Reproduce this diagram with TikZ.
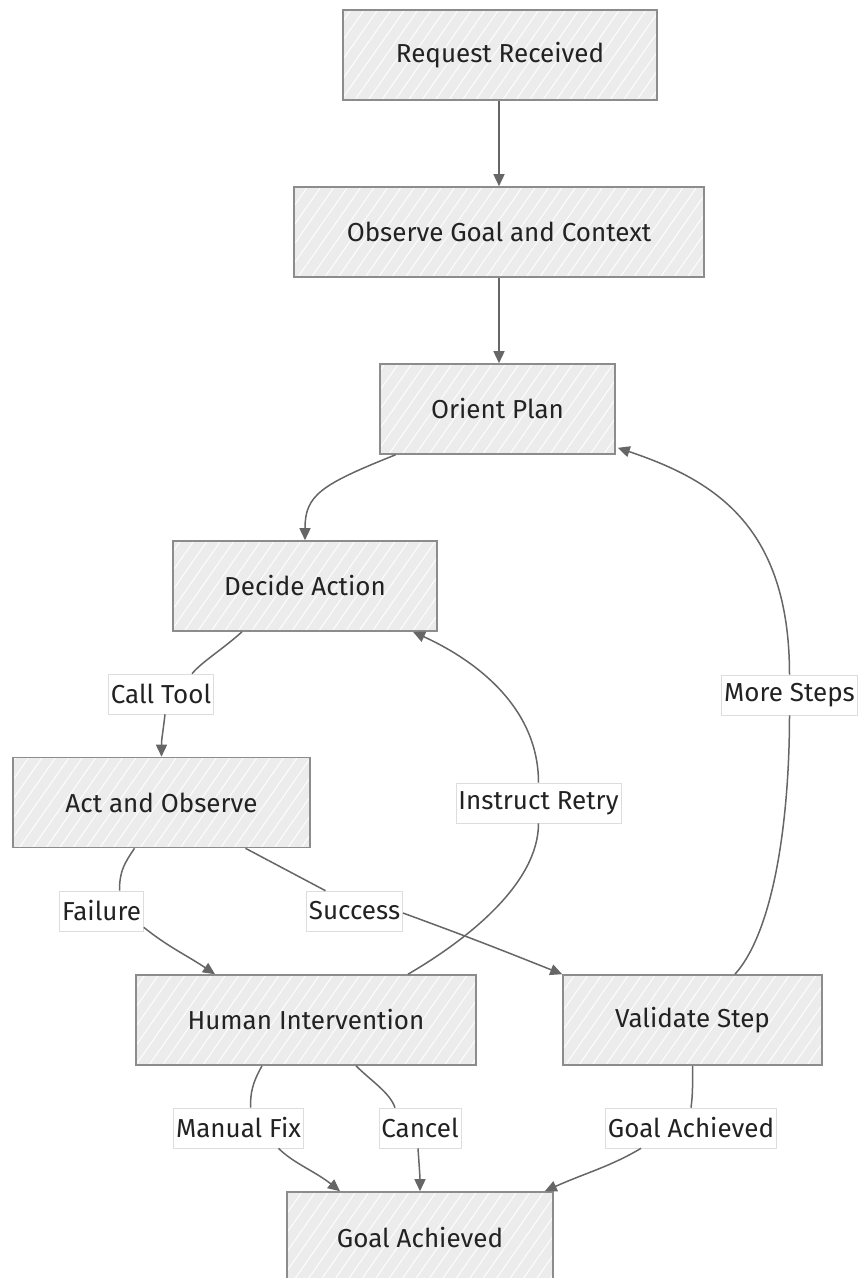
\documentclass[tikz,border=0pt]{standalone}
\usepackage{fontspec}
\setmainfont{Fira Sans}
\usetikzlibrary{arrows.meta,patterns.meta,calc}

\definecolor{boxfill}{HTML}{ECECEC}
\definecolor{boxline}{HTML}{8C8C8C}
\definecolor{edge}{HTML}{666666}
\definecolor{txt}{HTML}{222222}
\definecolor{lblline}{HTML}{DDDDDD}

\tikzset{
  stepbox/.style={
    rectangle, minimum height=90pt, inner sep=0pt,
    preaction={fill=boxfill},
    preaction={pattern={Lines[angle=55,distance=11pt,line width=0.9pt]}, pattern color=white},
    draw=boxline, line width=1.6pt,
    text=txt, font=\fontsize{26}{30}\selectfont
  },
  lbl/.style={
    rectangle, fill=white, draw=lblline, line width=0.6pt,
    minimum height=40pt, inner xsep=2.5pt, inner ysep=0pt,
    text=txt, font=\fontsize{26}{30}\selectfont
  },
  link/.style={draw=edge, line width=1.5pt},
  arr/.style={link, -{Triangle[length=12pt,width=11pt]}}
}

\begin{document}
\begin{tikzpicture}[x=1pt,y=-1pt]
  \useasboundingbox (0,0) rectangle (858,1278);

  % process steps
  \node[stepbox, minimum width=314pt] (req)  at (500,55)    {Request Received};
  \node[stepbox, minimum width=410pt] (obs)  at (499,232)   {Observe Goal and Context};
  \node[stepbox, minimum width=235pt] (ori)  at (497.5,409) {Orient Plan};
  \node[stepbox, minimum width=264pt] (dec)  at (305,586)   {Decide Action};
  \node[stepbox, minimum width=297pt] (act)  at (161.5,802.5) {Act and Observe};
  \node[stepbox, minimum width=340pt] (hum)  at (306,1020)  {Human Intervention};
  \node[stepbox, minimum width=259pt] (val)  at (692.5,1020) {Validate Step};
  \node[stepbox, minimum width=266pt] (goal) at (420,1237)  {Goal Achieved};

  % edge labels
  \node[lbl] (lcall)  at (161,694)    {Call Tool};
  \node[lbl] (lfail)  at (101.5,911)  {Failure};
  \node[lbl] (lsucc)  at (354.5,911)  {Success};
  \node[lbl] (lretry) at (538.5,803)  {Instruct Retry};
  \node[lbl] (lmore)  at (789.5,695)  {More Steps};
  \node[lbl] (lman)   at (238.5,1128) {Manual Fix};
  \node[lbl] (lcan)   at (420,1128)   {Cancel};
  \node[lbl] (lgoal)  at (691,1128)   {Goal Achieved};

  % straight flow at the top
  \draw[arr] ($(req.south)+(-1,0)$) -- ($(obs.north)+(0,0)$);
  \draw[arr] (obs.south) -- ($(ori.north)+(1.5,0)$);

  % orient -> decide
  \draw[arr] ($(ori.south)+(-102,0)$) .. controls +(-75,30) and +(0,-45) .. (dec.north);

  % decide -> act (call tool)
  \draw[link] ($(dec.south)+(-63,0)$) .. controls +(-20,18) and +(10,-12) .. ($(lcall.north)+(31,0)$);
  \draw[arr] ($(lcall.south)+(4,0)$) .. controls +(-2,18) and +(0,-18) .. (act.north);

  % act -> human (failure)
  \draw[link] ($(act.south)+(-27,0)$) .. controls +(-10,15) and +(0,-20) .. ($(lfail.north)+(18,0)$);
  \draw[arr] ($(lfail.south east)+(0,-4)$) .. controls +(25,20) and +(-30,-20) .. ($(hum.north)+(-91,0)$);

  % act -> validate (success)
  \draw[link] ($(act.south)+(84,0)$) -- ($(lsucc.north)+(-29,0)$);
  \draw[arr] ($(lsucc.east)+(0,2)$) .. controls +(60,22) and +(-70,-28) .. (val.north west);

  % human -> decide (instruct retry)
  \draw[link] ($(hum.north)+(102,0)$) .. controls +(60,-35) and +(0,60) .. (lretry.south);
  \draw[arr] (lretry.north) .. controls +(0,-80) and +(55,25) .. ($(dec.south)+(108,0)$);

  % validate -> orient (more steps)
  \draw[link] ($(val.north)+(42.5,0)$) .. controls +(40,-45) and +(0,100) .. (lmore.south);
  \draw[arr] (lmore.north) .. controls +(0,-150) and +(95,32) .. ($(ori.south east)+(2,-7)$);

  % human -> goal (manual fix, cancel)
  \draw[link] ($(hum.south)+(-44,0)$) .. controls +(-10,18) and +(0,-15) .. ($(lman.north)+(12,0)$);
  \draw[arr] ($(lman.south)+(40,0)$) .. controls +(15,15) and +(-25,-20) .. ($(goal.north)+(-80,0)$);
  \draw[link] ($(hum.south)+(50,0)$) .. controls +(15,15) and +(-5,-15) .. ($(lcan.north)+(-25,0)$);
  \draw[arr] ($(lcan.south)+(-2,0)$) .. controls +(1,15) and +(0,-15) .. (goal.north);

  % validate -> goal (goal achieved)
  \draw[link] (val.south) .. controls +(0,18) and +(2,-15) .. ($(lgoal.north)+(0,0)$);
  \draw[arr] ($(lgoal.south)+(-50,0)$) .. controls +(-30,18) and +(40,-18) .. ($(goal.north east)+(-9,0)$);
\end{tikzpicture}
\end{document}
